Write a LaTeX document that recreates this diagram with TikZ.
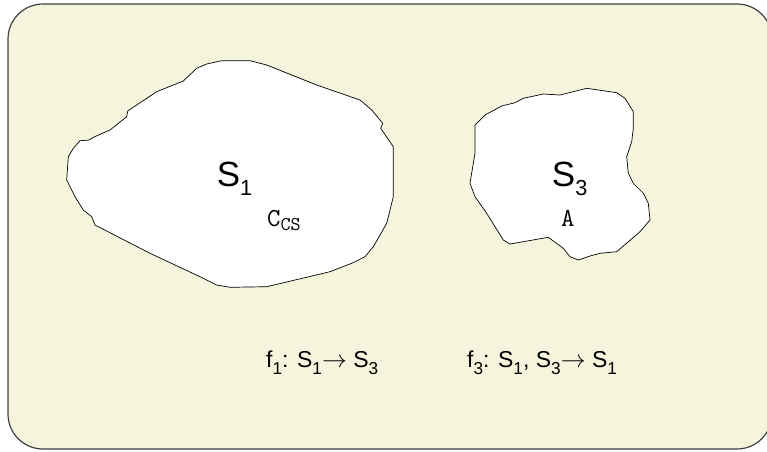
\documentclass[tikz,border=0pt]{standalone}
\usepackage{fontspec}
\setmainfont{Liberation Sans}
\usetikzlibrary{positioning}

\definecolor{paper}{RGB}{245,244,220}
\newcommand{\lowsub}[3]{\raisebox{#2}{\scalebox{#1}{#3}}}
\newcommand{\ssub}{\lowsub{0.62}{-0.26em}}
\newcommand{\fsub}{\lowsub{0.75}{-0.33em}}
\newcommand{\tsub}{\lowsub{0.75}{-0.18em}}
\newcommand{\mapto}{$\rightarrow$}

\begin{document}
\begin{tikzpicture}[x=1pt, y=-1pt,
  frame/.style={draw=black!75, line width=1.2pt, fill=paper, rounded corners=35pt},
  region/.style={draw=black, line width=0.7pt, fill=white},
  setname/.style={anchor=base west, inner sep=0pt, font=\fontsize{35}{35}\selectfont},
  elem/.style={anchor=base west, inner sep=0pt, font=\ttfamily\fontsize{26}{26}\selectfont},
  func/.style={anchor=base west, inner sep=0pt, font=\fontsize{23}{23}\selectfont},
]
\useasboundingbox (0,0) rectangle (767,451);
\draw[frame] (8,4) rectangle (772,449);

% set S1
\draw[region] (80,140.7) -- (89.3,140) -- (93.3,137.3) -- (110,130) -- (126.7,116.7)
  -- (127.7,111) -- (156.7,91.7) -- (183.3,81) -- (196.7,68.3) -- (206.7,64)
  -- (221.7,60.7) -- (250,60.7) -- (266.7,65) -- (316.7,85) -- (360,100)
  -- (371.7,110) -- (380,120) -- (382.7,123.3) -- (380.7,128.3) -- (393.3,146.7)
  -- (393.3,196.7) -- (386.7,223.3) -- (373.3,246.7) -- (365,256.7) -- (351.7,263.3)
  -- (330,271.7) -- (266.7,286.7) -- (230,287.3) -- (216.7,285) -- (200,276.7)
  -- (150,253.3) -- (95,225) -- (91.7,216.7) -- (83.3,210) -- (75,196.7)
  -- (66.7,180) -- (68.3,156.7) -- (73.3,148.3) -- cycle;

% set S3
\draw[region] (475,125) -- (485,115) -- (501.7,106) -- (515,102.7) -- (523.3,98.3)
  -- (543.3,94) -- (560,95) -- (586.7,88.3) -- (616.7,92.7) -- (625,98.3)
  -- (633.3,111.7) -- (633.3,128.3) -- (631.7,141.7) -- (626.7,156.7) -- (628.3,173.3)
  -- (633.3,183.3) -- (643.3,193.3) -- (648.3,203.3) -- (650,220) -- (640,231.7)
  -- (616.7,251.7) -- (600,253.3) -- (590,256) -- (578.3,260) -- (570,256.7)
  -- (563.3,248.3) -- (548.3,237.3) -- (510,244) -- (503.3,240) -- (486.7,213.3)
  -- (475,196.7) -- (470,183.3) -- (475,153.3) -- cycle;

\node[setname] (s1) at (216.7,186) {S\ssub{1}};
\node[elem] (ccs) at (267,226) {C\tsub{CS}};
\node[setname] (s3) at (551.7,186.7) {S\ssub{3}};
\node[elem] (a) at (561,226) {A};

\node[func] (f1) at (266,367) {f\fsub{1}: S\fsub{1}\mapto{} S\fsub{3}};
\node[func] (f3) at (467,367) {f\fsub{3}: S\fsub{1}, S\fsub{3}\mapto{} S\fsub{1}};
\end{tikzpicture}
\end{document}
